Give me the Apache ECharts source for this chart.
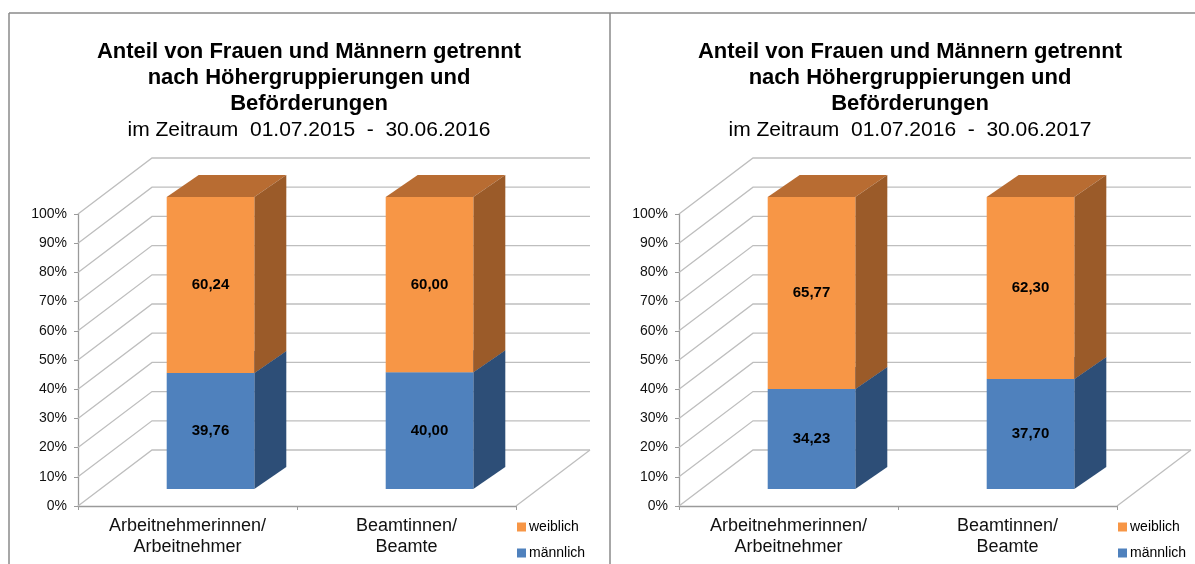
<!DOCTYPE html>
<html lang="de">
<head>
    <meta charset="UTF-8">
    <title>Anteil von Frauen und Männern</title>
    <script src="https://cdn.jsdelivr.net/npm/echarts@6/dist/echarts.min.js"></script>
    <style>
        html, body { margin: 0; padding: 0; background: #fff; }
        #main { width: 1195px; height: 564px; }
    </style>
</head>
<body>
<div id="main"></div>
<script>
    // Daten
    var kategorien = ['Arbeitnehmerinnen/\nArbeitnehmer', 'Beamtinnen/\nBeamte'];
    var zeitraeume = ['im Zeitraum  01.07.2015  -  30.06.2016', 'im Zeitraum  01.07.2016  -  30.06.2017'];
    var maennlich1 = [39.76, 40.00];
    var weiblich1 = [60.24, 60.00];
    var maennlich2 = [34.23, 37.70];
    var weiblich2 = [65.77, 62.30];
    var yTicks = [0, 10, 20, 30, 40, 50, 60, 70, 80, 90, 100];
    var legendNamen = ['weiblich', 'männlich'];

    var FONT = '"Liberation Sans", Arial, sans-serif';
    // 3D-Versatz (Pixel): Rückwand, Balkenposition, Balkentiefe
    var WALL_DX = 74, WALL_DY = 56;
    var BAR_OX = 23, BAR_OY = 17;
    var BAR_DX = 32, BAR_DY = 22;

    var farben = {
        'männlich': { front: '#4F81BD', side: '#2D4E77', top: '#3B6598' },
        'weiblich': { front: '#F79646', side: '#9B5B29', top: '#B86C32' }
    };

    function fmt(v) {
        return v.toFixed(2).replace('.', ',');
    }

    // Rückwand + Boden mit Gitterlinien
    function wallRender(params, api) {
        var v = api.value(1);
        var p = api.coord([0, v]);
        var band = api.size([1, 0])[0];
        var xl = p[0] - band / 2;
        var xr = xl + band * kategorien.length;
        var y = p[1];
        var lineStyle = { stroke: '#BEBEBE', lineWidth: 1.3, fill: null };
        var children = [{
            type: 'polyline',
            shape: { points: [[xl, y], [xl + WALL_DX, y - WALL_DY], [xr + WALL_DX, y - WALL_DY]] },
            style: lineStyle
        }];
        if (v === 0) {
            children.push({
                type: 'line',
                shape: { x1: xr, y1: y, x2: xr + WALL_DX, y2: y - WALL_DY },
                style: lineStyle
            });
        }
        return { type: 'group', children: children };
    }

    function boxRender(name) {
        var c = farben[name];
        return function (params, api) {
            var cat = api.value(0), lo = api.value(1), hi = api.value(2), val = api.value(3);
            var p0 = api.coord([cat, lo]);
            var p1 = api.coord([cat, hi]);
            var band = api.size([1, 0])[0];
            var w = band * 0.4;
            var x0 = p0[0] + BAR_OX - w / 2, x1 = x0 + w;
            var yb = p0[1] - BAR_OY, yt = p1[1] - BAR_OY;
            return {
                type: 'group',
                children: [
                    { type: 'polygon', shape: { points: [[x0, yt], [x0 + BAR_DX, yt - BAR_DY], [x1 + BAR_DX, yt - BAR_DY], [x1, yt]] }, style: { fill: c.top } },
                    { type: 'polygon', shape: { points: [[x1, yb], [x1 + BAR_DX, yb - BAR_DY], [x1 + BAR_DX, yt - BAR_DY], [x1, yt]] }, style: { fill: c.side } },
                    { type: 'rect', shape: { x: x0, y: yt, width: w, height: yb - yt }, style: { fill: c.front } },
                    { type: 'text', style: { text: fmt(val), x: x0 + w / 2, y: (yb + yt) / 2, align: 'center', verticalAlign: 'middle', font: 'bold 15px ' + FONT, fill: '#000' } }
                ]
            };
        };
    }

    var myChart = echarts.init(document.getElementById('main'));

    var grids = [], xAxes = [], yAxes = [], series = [], titles = [], legends = [];
    var panels = [
        { m: maennlich1, w: weiblich1, zeit: zeitraeume[0], shift: 0 },
        { m: maennlich2, w: weiblich2, zeit: zeitraeume[1], shift: 601 }
    ];

    panels.forEach(function (pn, i) {
        grids.push({ left: 78 + pn.shift, top: 214, width: 438, height: 292 });
        xAxes.push({
            type: 'category', gridIndex: i, data: kategorien,
            axisLine: { show: true, lineStyle: { color: '#9A9A9A', width: 1.3 } },
            axisTick: { show: true, length: 4, lineStyle: { color: '#9A9A9A' } },
            axisLabel: { color: '#111', fontFamily: FONT, fontSize: 18, lineHeight: 21, margin: 10, interval: 0 }
        });
        yAxes.push({
            type: 'value', gridIndex: i, min: 0, max: 100, interval: 10,
            axisLine: { show: true, lineStyle: { color: '#9A9A9A', width: 1.3 } },
            axisTick: { show: true, length: 4, lineStyle: { color: '#9A9A9A' } },
            axisLabel: { formatter: '{value}%', color: '#111', fontFamily: FONT, fontSize: 14, margin: 11 },
            splitLine: { show: false }
        });
        series.push({
            type: 'custom', xAxisIndex: i, yAxisIndex: i, z: 1, silent: true,
            renderItem: wallRender,
            encode: { x: 0, y: 1 },
            data: yTicks.map(function (t) { return [0, t]; })
        });
        series.push({
            name: 'männlich', type: 'custom', xAxisIndex: i, yAxisIndex: i, z: 2,
            itemStyle: { color: farben['männlich'].front },
            renderItem: boxRender('männlich'),
            encode: { x: 0, y: [1, 2] },
            data: pn.m.map(function (v, k) { return [k, 0, v, v]; })
        });
        series.push({
            name: 'weiblich', type: 'custom', xAxisIndex: i, yAxisIndex: i, z: 3,
            itemStyle: { color: farben['weiblich'].front },
            renderItem: boxRender('weiblich'),
            encode: { x: 0, y: [1, 2] },
            data: pn.w.map(function (v, k) { return [k, pn.m[k], pn.m[k] + v, v]; })
        });
        titles.push({
            text: 'Anteil von Frauen und Männern getrennt\nnach Höhergruppierungen und\nBeförderungen',
            subtext: pn.zeit,
            left: 304 + pn.shift, top: 34, textAlign: 'center', itemGap: 0,
            textStyle: { fontFamily: FONT, fontSize: 22, fontWeight: 'bold', color: '#000', lineHeight: 26 },
            subtextStyle: { fontFamily: FONT, fontSize: 21, color: '#000', lineHeight: 26 }
        });
        legendNamen.forEach(function (n, j) {
            legends.push({
                data: [n], orient: 'vertical',
                left: 517 + pn.shift, top: 518 + j * 26, padding: 0, icon: 'rect',
                itemWidth: 9, itemHeight: 9, itemGap: 0, selectedMode: false,
                textStyle: { fontFamily: FONT, fontSize: 14, color: '#000', lineHeight: 18, padding: [0, 0, 0, -2] }
            });
        });
    });

    var option = {
        animation: false,
        title: titles,
        legend: legends,
        grid: grids,
        xAxis: xAxes,
        yAxis: yAxes,
        series: series,
        graphic: [
            { type: 'line', shape: { x1: 9, y1: 13, x2: 1195, y2: 13 }, style: { stroke: '#8A8A8A', lineWidth: 1.5 } },
            { type: 'line', shape: { x1: 9, y1: 13, x2: 9, y2: 564 }, style: { stroke: '#8A8A8A', lineWidth: 1.5 } },
            { type: 'line', shape: { x1: 610, y1: 13, x2: 610, y2: 564 }, style: { stroke: '#8A8A8A', lineWidth: 1.5 } }
        ]
    };
    myChart.setOption(option);
</script>
</body>
</html>
